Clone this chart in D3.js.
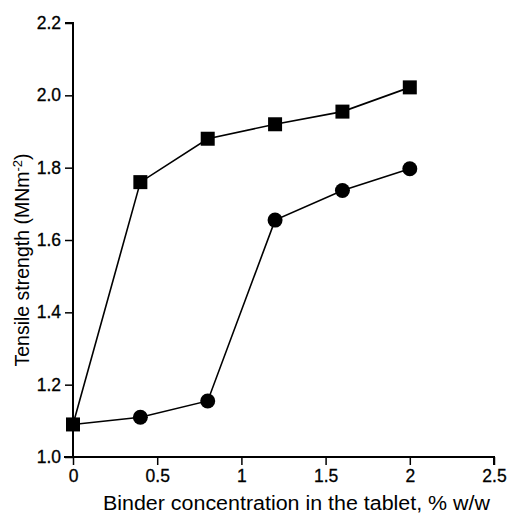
<!DOCTYPE html>
<html>
<head>
<meta charset="utf-8">
<script src="https://cdn.jsdelivr.net/npm/d3@7"></script>
<style>
  body { margin: 0; background: #fff; }
  svg text { font-family: "Liberation Sans", Arial, sans-serif; fill: #000; }
</style>
</head>
<body>
<script>
// data
const binder = [0, 0.4, 0.8, 1.2, 1.6, 2.0];
const squares = [1.09, 1.76, 1.88, 1.92, 1.955, 2.022];
const circles = [1.09, 1.11, 1.155, 1.655, 1.737, 1.797];
const xTicks = [0, 0.5, 1, 1.5, 2, 2.5];
const yTicks = [1.0, 1.2, 1.4, 1.6, 1.8, 2.0, 2.2];

const width = 513, height = 517;

const svg = d3.select('body').append('svg')
    .attr('width', width)
    .attr('height', height);

const x = d3.scaleLinear().domain([0, 2.5]).range([73, 494]);
const y = d3.scaleLinear().domain([1.0, 2.2]).range([457, 23]);

// axes
const xAxis = svg.append('g')
    .attr('transform', 'translate(0,' + y(1.0) + ')')
    .call(d3.axisBottom(x).tickValues(xTicks).tickSize(8).tickPadding(5)
        .tickFormat(d => d3.format('')(d)));
xAxis.select('.domain').attr('stroke-width', 2).attr('d', 'M' + (x(0) - 9) + ',0H' + x(2.5) + 'V8');
xAxis.selectAll('.tick line').attr('stroke-width', 1.5);
xAxis.selectAll('.tick text').style('font-size', '17.5px')
    .attr('stroke', '#000').attr('stroke-width', 0.3);

const yAxis = svg.append('g')
    .attr('transform', 'translate(' + x(0) + ',0)')
    .call(d3.axisLeft(y).tickValues(yTicks).tickSize(8).tickPadding(4)
        .tickFormat(d3.format('.1f')));
yAxis.select('.domain').attr('stroke-width', 2).attr('d', 'M-8,' + y(2.2) + 'H0V' + y(1.0));
yAxis.selectAll('.tick line').attr('stroke-width', 1.5);
yAxis.selectAll('.tick text').style('font-size', '17.5px')
    .attr('stroke', '#000').attr('stroke-width', 0.3);

// axis titles
svg.append('text')
    .attr('x', 103)
    .attr('y', 510)
    .attr('textLength', 387)
    .attr('lengthAdjust', 'spacingAndGlyphs')
    .style('font-size', '19.5px')
    .text('Binder concentration in the tablet, % w/w');

const yt = svg.append('text')
    .attr('transform', 'translate(29,260) rotate(-90)')
    .attr('text-anchor', 'middle')
    .style('font-size', '19.5px');
yt.append('tspan').text('Tensile strength (MNm');
yt.append('tspan').attr('dy', -7).style('font-size', '13px').text('-2');
yt.append('tspan').attr('dy', 7).text(')');

// lines
const line = d3.line().x(d => x(d[0])).y(d => y(d[1]));
const sqData = binder.map((b, i) => [b, squares[i]]);
const ciData = binder.map((b, i) => [b, circles[i]]);

svg.append('path').datum(ciData)
    .attr('d', line).attr('fill', 'none').attr('stroke', '#000').attr('stroke-width', 1.6);
svg.append('path').datum(sqData)
    .attr('d', line).attr('fill', 'none').attr('stroke', '#000').attr('stroke-width', 1.6);

// markers
svg.selectAll('circle.pt').data(ciData.slice(1)).join('circle')
    .attr('class', 'pt')
    .attr('cx', d => x(d[0]))
    .attr('cy', d => y(d[1]))
    .attr('r', 7.5)
    .attr('fill', '#000');

svg.selectAll('rect.pt').data(sqData).join('rect')
    .attr('class', 'pt')
    .attr('x', d => x(d[0]) - 7)
    .attr('y', d => y(d[1]) - 7)
    .attr('width', 14)
    .attr('height', 14)
    .attr('fill', '#000');
</script>
</body>
</html>
